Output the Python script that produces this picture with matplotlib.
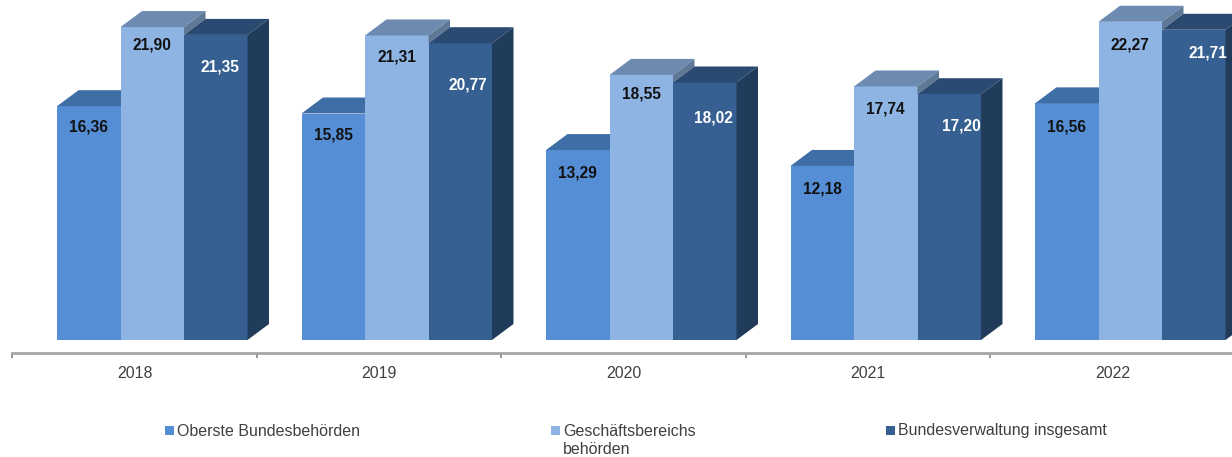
import matplotlib
matplotlib.use("Agg")
import matplotlib.pyplot as plt
from matplotlib.patches import Polygon, Rectangle

plt.rcParams["font.family"] = ["Liberation Sans", "DejaVu Sans"]

# dane
YEARS = ["2018", "2019", "2020", "2021", "2022"]
SERIES_NAMES = ["Oberste Bundesbehörden", "Geschäftsbereichs\nbehörden", "Bundesverwaltung insgesamt"]
OBERSTE = [16.36, 15.85, 13.29, 12.18, 16.56]
GESCHAEFT = [21.90, 21.31, 18.55, 17.74, 22.27]
GESAMT = [21.35, 20.77, 18.02, 17.20, 21.71]

# kolory: front, top, bok
COLORS = [
    ("#558ED5", "#3F6DA5", "#2F5685"),
    ("#8DB4E3", "#6D8AB0", "#5E7896"),
    ("#376092", "#2B4A72", "#213C5B"),
]
LABEL_COLORS = ["#111111", "#111111", "#FFFFFF"]

# przesunięcia etykiet w pikselach (opadanie od góry słupka)
LABEL_DROP = [
    [21, 21, 23, 23, 24],
    [18, 22, 19, 23, 23],
    [32, 42, 36, 32, 23],
]
LABEL_SHIFT = [4.5, 8, 9, 12, 14]  # ciemne słupki, w prawo

W, H = 1232, 457
PX_X = 244.5          # pikseli na kategorię
PX_Y = 14.29          # pikseli na jednostkę
X0, Y0 = 134.5, 340   # piksel kategorii 0 / wartości 0

BAR_W = 63.5 / PX_X
LEFT = -77.5 / PX_X
DX = 21.5 / PX_X
DY = 16 / PX_Y

fig = plt.figure(figsize=(W / 100, H / 100), dpi=100)
ax = fig.add_axes([0, 0, 1, 1])

all_series = [OBERSTE, GESCHAEFT, GESAMT]
for s, values in enumerate(all_series):
    front, top, side = COLORS[s]
    for i, v in enumerate(values):
        x = i + LEFT + s * BAR_W
        ax.bar(x, v, BAR_W, align="edge", color=front, linewidth=0, zorder=2 + s)
        ax.add_patch(Polygon([(x, v), (x + DX, v + DY), (x + BAR_W + DX, v + DY), (x + BAR_W, v)],
                             closed=True, fc=top, lw=0, zorder=2 + s))
        # bok widać tylko ponad sąsiednim słupkiem, inaczej zostaje ciemna szczelina
        floor = all_series[s + 1][i] if s < 2 else 0
        if floor < v:
            ax.add_patch(Polygon([(x + BAR_W, floor), (x + BAR_W + DX, floor + DY),
                                  (x + BAR_W + DX, v + DY), (x + BAR_W, v)],
                                 closed=True, fc=side, lw=0, zorder=2 + s))
        shift = LABEL_SHIFT[i] if s == 2 else 0
        ax.annotate(f"{v:.2f}".replace(".", ","), (x + BAR_W / 2, v),
                    xytext=(shift, -LABEL_DROP[s][i]), textcoords="offset pixels",
                    ha="center", va="center", fontsize=11.2, fontweight="bold",
                    color=LABEL_COLORS[s], zorder=10)

# oś X
for name in ["top", "left", "right"]:
    ax.spines[name].set_visible(False)
ax.spines["bottom"].set_position(("data", -13 / PX_Y))
ax.spines["bottom"].set_color("#A6A6A6")
ax.spines["bottom"].set_linewidth(2)
ax.spines["bottom"].set_bounds(-0.5, (W - X0) / PX_X)
ax.set_yticks([])
ax.set_xticks([i - 0.5 for i in range(5)])
ax.set_xticklabels([])
ax.tick_params(axis="x", which="major", length=3.5, width=1.2, color="#808080")
ax.set_xticks(range(len(YEARS)), minor=True)
ax.set_xticklabels(YEARS, minor=True, fontsize=11.4, color="#404040")
ax.tick_params(axis="x", which="minor", length=0, pad=9.5)

# zakresy dopiero po ticks, set_xticks potrafi je rozszerzyć
ax.set_xlim(-X0 / PX_X, (W - X0) / PX_X)
ax.set_ylim((Y0 - H) / PX_Y, Y0 / PX_Y)

# legenda
LEGEND_X = [165, 551, 886]
for (name, colors, lx) in zip(SERIES_NAMES, COLORS, LEGEND_X):
    fig.patches.append(Rectangle((lx / W, 1 - 434.5 / H), 9 / W, 9 / H, transform=fig.transFigure,
                                 fc=colors[0], lw=0))
    fig.text((lx + 12) / W, 1 - 423.5 / H, name, ha="left", va="top", fontsize=11.5,
             color="#404040", linespacing=1.25)

fig.savefig("out.png", dpi=100)
plt.close(fig)
